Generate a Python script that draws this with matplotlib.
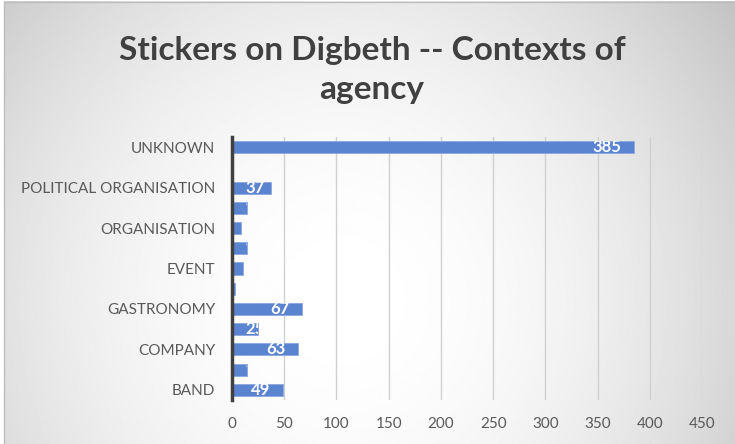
import numpy as np
import matplotlib
matplotlib.use('Agg')
import matplotlib.pyplot as plt
from matplotlib.transforms import TransformedBbox

plt.rcParams['font.family'] = ['Lato', 'DejaVu Sans']

# bottom to top, Excel only labels every second category
categories = ['BAND', '', 'COMPANY', '', 'GASTRONOMY', '', 'EVENT', '',
              'ORGANISATION', '', 'POLITICAL ORGANISATION', '', 'UNKNOWN']
values = [49, 14, 63, 25, 67, 3, 11, 14, 9, 14, 37, 0, 385]
xticks = [0, 50, 100, 150, 200, 250, 300, 350, 400, 450]
title = 'Stickers on Digbeth -- Contexts of\nagency'

fig = plt.figure(figsize=(7.35, 4.44), dpi=100, facecolor='white')

# radial grey background like the office chart style
bg = fig.add_axes([0, 0, 1, 1])
yy, xx = np.mgrid[0:444, 0:735]
r2 = ((xx - 340) / 500.0) ** 2 + ((yy - 300) / 520.0) ** 2
shade = 1.0 - 0.25 * np.clip(r2, 0, 1)
x0, y1 = 4 / 735, 1 - 2 / 444
bg.imshow(shade, cmap='gray', vmin=0, vmax=1, aspect='auto', extent=[x0, 1, 0, y1])
bg.set_xlim(0, 1)
bg.set_ylim(0, 1)
bg.axis('off')
bg.plot([x0, x0, 1], [0, y1, y1], color='#bdbdbd', lw=1)

ax = fig.add_axes([232 / 735, 1 - 400 / 444, 470 / 735, 263 / 444])
ax.patch.set_alpha(0)
pos = np.arange(len(categories))
bars = ax.barh(pos, values, height=0.6, color='#5B84D0', edgecolor='#8aa8e0',
               lw=0.6, zorder=3)

# white labels at the inside end, only visible where they sit on the bar
for bar, p, v in zip(bars, pos, values):
    if v == 0:
        continue
    txt = str(v)
    w = len(txt) * 8.6
    if v - 12 - w > 12.4:
        t = ax.text(v - 12, p, txt, ha='right', va='center', color='white',
                    fontsize=12, fontweight='bold', zorder=4)
    else:
        t = ax.text(12.4, p, txt, ha='left', va='center', color='white',
                    fontsize=12, fontweight='bold', zorder=4)
    t.set_clip_on(True)
    t.set_clip_box(TransformedBbox(bar.get_bbox(), ax.transData))

ax.set_xlim(0, 450)
ax.set_ylim(-0.5, len(categories) - 0.5)
ax.set_xticks(xticks)
ax.set_yticks(pos)
ax.set_yticklabels(categories)
ax.grid(axis='x', color='#d0d0d0', lw=1, zorder=0)
for s in ['top', 'right', 'bottom']:
    ax.spines[s].set_visible(False)
ax.spines['left'].set_color('#404040')
ax.spines['left'].set_linewidth(2.5)
ax.spines['left'].set_zorder(5)
ax.tick_params(axis='y', length=0, pad=12, labelsize=11, labelcolor='#595959')
ax.tick_params(axis='x', length=0, pad=12, labelsize=11, labelcolor='#595959')

fig.text(372 / 735, 1 - 70 / 444, title, ha='center', va='center',
         fontsize=24, fontweight='bold', color='#404040', linespacing=1.45)

fig.savefig('out.png', dpi=100, facecolor='white')
